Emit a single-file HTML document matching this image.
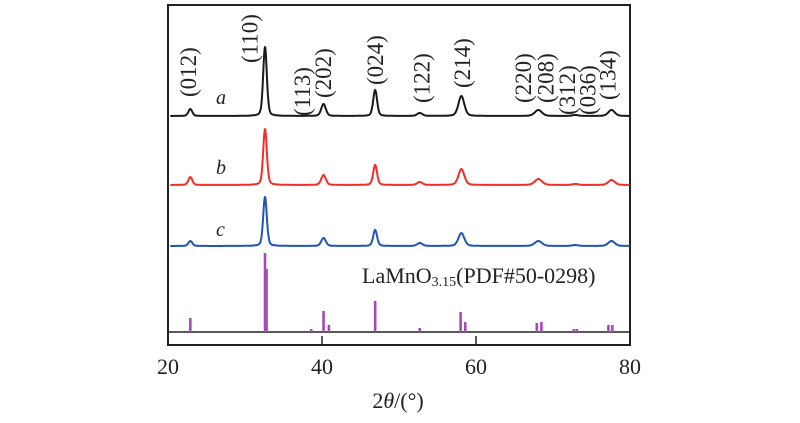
<!DOCTYPE html>
<html><head><meta charset="utf-8"><style>
html,body{margin:0;padding:0;background:#fff;width:800px;height:423px;overflow:hidden}
svg text{font-family:"Liberation Serif",serif;fill:#222}
</style></head><body>
<svg id="chart" width="800" height="423" viewBox="0 0 800 423">
<rect x="168" y="5" width="462" height="340" fill="none" stroke="#222" stroke-width="2"/>
<line x1="168" y1="332" x2="630" y2="332" stroke="#222" stroke-width="1.5"/>
<g id="ticks"></g><g id="series"></g><g id="sticks"></g><g id="labels"></g>
<text x="398" y="408" font-size="22" text-anchor="middle">2<tspan font-style="italic">θ</tspan>/(°)</text>
<text x="362" y="283" font-size="22">LaMnO<tspan font-size="14" dy="3">3.15</tspan><tspan dy="-3">(PDF#50-0298)</tspan></text>
<text x="216" y="104" font-size="20" font-style="italic">a</text>
<text x="216" y="174" font-size="20" font-style="italic">b</text>
<text x="216" y="236" font-size="20" font-style="italic">c</text>
</svg>
<script>
const xTicks=[20,40,60,80];
const peakPos=[22.9,32.6,40.2,46.9,52.7,58.1,68.1,72.9,77.6];
const peakWidth=[0.3,0.28,0.35,0.3,0.4,0.45,0.55,0.45,0.5];
const heightsA=[7,69,12,26,3,20,6,1,6];
const heightsB=[8,56,10,20,3,16,6,1,5];
const heightsC=[5,49,8,16,3,13,5,1,5];
const baseA=116, baseB=185, baseC=246;
const stickPos=[22.9,32.6,32.8,38.6,40.2,40.9,46.9,52.7,58.0,58.6,67.9,68.5,72.7,73.1,77.2,77.7];
const stickH=[14,79,63,3,21,7,31,4,20,10,9,10,3,3,7,7];
const hkl=["(012)","(110)","(113)","(202)","(024)","(122)","(214)","(220)","(208)","(312)","(036)","(134)"];
const hklX=[22.6,30.6,37.4,40.1,46.9,52.9,58.2,66.1,69.0,71.8,74.5,77.1];
const hklBottom=[97,63,116,98,85,103,88,103,103,115,115,100];
const ns="http://www.w3.org/2000/svg";
const X=d=>168+(d-20)*(462/60);
function mk(tag,attrs,parent){const e=document.createElementNS(ns,tag);for(const k in attrs)e.setAttribute(k,attrs[k]);document.getElementById(parent).appendChild(e);return e;}
xTicks.forEach(t=>{
 const l=mk('line',{x1:X(t),x2:X(t),y1:345,y2:336,stroke:'#222','stroke-width':1.5},'ticks');
 
 
 const tx=mk('text',{x:X(t),y:374,'font-size':22,'text-anchor':'middle'},'ticks');
 tx.textContent=t;
 
 
});
function curve(h,base,color,name){
 let d='';
 for(let x=20.3;x<=80;x+=0.04){
  let y=0;
  peakPos.forEach((p,i)=>{const w=peakWidth[i];const z=(x-p)/w;y+=h[i]*(0.3/(1+z*z)+0.7*Math.exp(-z*z*0.69));});
  d+=(d?'L':'M')+X(x).toFixed(1)+','+(base-y).toFixed(1);
 }
 const p=mk('path',{d:d,fill:'none',stroke:color,'stroke-width':2},'series');
 
 
}
curve(heightsA,baseA,'#1a1a1a','series-a');
curve(heightsB,baseB,'#f03028','series-b');
curve(heightsC,baseC,'#1f55b5','series-c');
stickPos.forEach((p,i)=>{
 const r=mk('rect',{x:X(p)-1.3,y:332-stickH[i],width:2.6,height:stickH[i],fill:'#a64ab8'},'sticks');
 
 
});
hkl.forEach((s,i)=>{
 const x=X(hklX[i])+8,y=hklBottom[i];
 const t=mk('text',{x:x,y:y,'font-size':23,transform:`rotate(-90 ${x} ${y})`},'labels');
 t.textContent=s;
 
 
});
</script>
</body></html>
